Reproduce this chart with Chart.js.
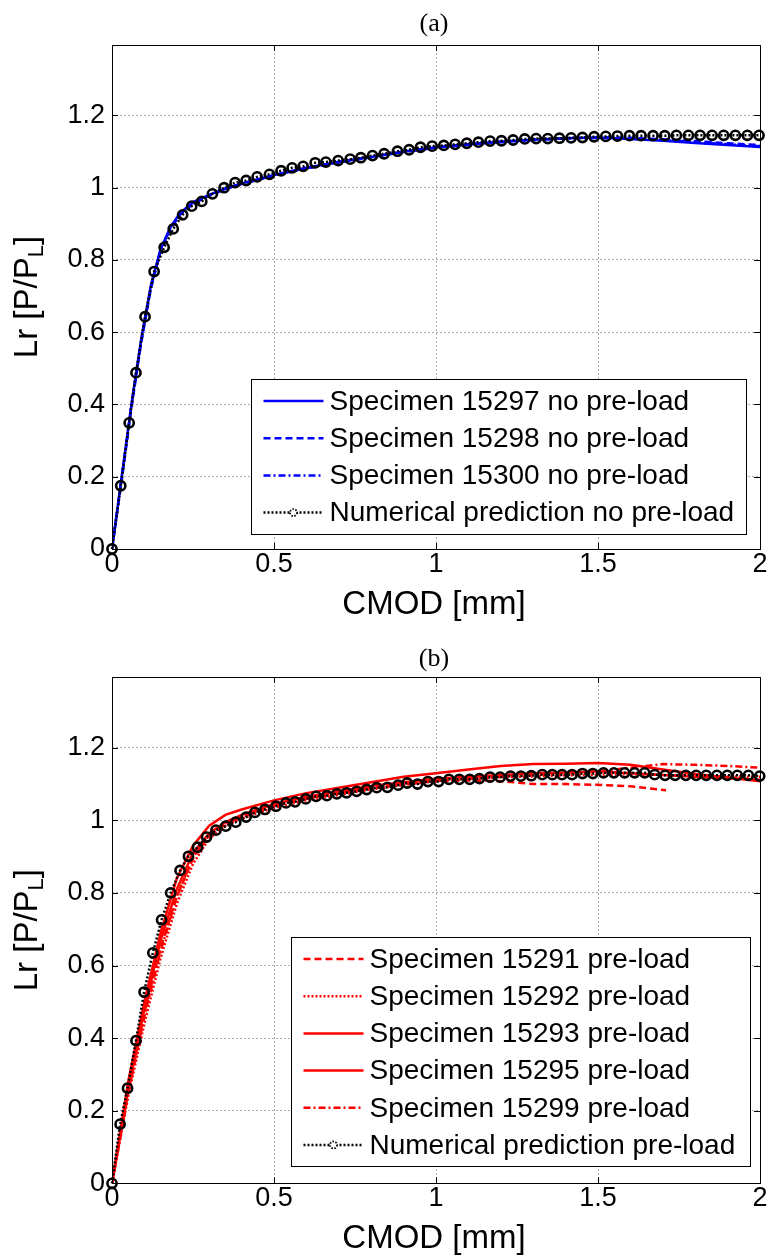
<!DOCTYPE html>
<html>
<head>
<meta charset="utf-8">
<script src="https://cdn.jsdelivr.net/npm/chart.js@4.4.1/dist/chart.umd.min.js"></script>
<style>
  html, body { margin: 0; padding: 0; background: #fff; }
  #wrap { position: relative; width: 768px; height: 1256px; }
  .panel { position: absolute; left: 0; width: 768px; height: 628px; }
</style>
</head>
<body>
<div id="wrap">
  <div class="panel" style="top:0"><canvas id="chartA" width="768" height="628"></canvas></div>
  <div class="panel" style="top:628px"><canvas id="chartB" width="768" height="628"></canvas></div>
</div>
<script>
// ---- axis ticks ----
const cmodTicks = [0, 0.5, 1, 1.5, 2];
const lrTicks = [0, 0.2, 0.4, 0.6, 0.8, 1, 1.2];

// ---- (a) specimens without pre-load ----
const expA_cmod = [0, 0.03, 0.06, 0.09, 0.12, 0.15, 0.18, 0.21, 0.25, 0.3, 0.35, 0.4, 0.5, 0.6, 0.7, 0.8, 0.9, 1.0, 1.1, 1.2, 1.3, 1.4, 1.5, 1.6, 1.7, 1.8, 1.9, 2.0];
const lr15297 = [0, 0.20, 0.40, 0.58, 0.73, 0.83, 0.89, 0.93, 0.96, 0.98, 0.998, 1.012, 1.035, 1.055, 1.072, 1.085, 1.100, 1.112, 1.120, 1.127, 1.133, 1.137, 1.139, 1.135, 1.130, 1.124, 1.118, 1.113];
const lr15298 = [0, 0.19, 0.39, 0.57, 0.72, 0.825, 0.885, 0.925, 0.955, 0.978, 0.996, 1.010, 1.033, 1.053, 1.070, 1.084, 1.099, 1.111, 1.119, 1.127, 1.133, 1.137, 1.140, 1.138, 1.134, 1.129, 1.123, 1.118];
const lr15300 = [0, 0.20, 0.40, 0.575, 0.725, 0.83, 0.888, 0.928, 0.958, 0.979, 0.997, 1.011, 1.034, 1.054, 1.071, 1.085, 1.099, 1.111, 1.120, 1.126, 1.132, 1.136, 1.138, 1.136, 1.132, 1.126, 1.120, 1.115];

// numerical prediction, no pre-load
const numA_cmod = [0, 0.027, 0.053, 0.074, 0.102, 0.130, 0.161, 0.189, 0.218, 0.246, 0.277, 0.310, 0.346,
  0.380, 0.414, 0.448, 0.486, 0.522, 0.556, 0.590, 0.627, 0.660, 0.698, 0.735, 0.768, 0.804, 0.840,
  0.881, 0.917, 0.952, 0.988, 1.024, 1.059, 1.095, 1.131, 1.167, 1.202, 1.238, 1.274, 1.309, 1.345, 1.381, 1.417, 1.452, 1.488,
  1.524, 1.560, 1.597, 1.633, 1.670, 1.706, 1.742, 1.779, 1.815, 1.852, 1.888, 1.924, 1.961, 1.997];
const numA_lr = [0, 0.175, 0.349, 0.488, 0.643, 0.768, 0.835, 0.886, 0.925, 0.949, 0.962, 0.983, 1.000,
  1.014, 1.020, 1.030, 1.037, 1.047, 1.055, 1.059, 1.069, 1.071, 1.075, 1.079, 1.083, 1.089, 1.094,
  1.101, 1.105, 1.112, 1.115, 1.117, 1.120, 1.123, 1.126, 1.129, 1.130, 1.132, 1.135, 1.136, 1.136, 1.137, 1.138, 1.139, 1.141,
  1.142, 1.143, 1.144, 1.144, 1.144, 1.144, 1.145, 1.145, 1.145, 1.145, 1.145, 1.145, 1.145, 1.145];

// ---- (b) specimens with pre-load ----
const expB_cmod = [0, 0.05, 0.1, 0.15, 0.2, 0.25, 0.3, 0.35, 0.4, 0.5, 0.6, 0.7, 0.8, 0.9, 1.0, 1.1, 1.2, 1.3, 1.4, 1.5, 1.6, 1.7, 1.8, 1.9, 2.0];
const lr15291_cmod = [0, 0.05, 0.1, 0.15, 0.2, 0.25, 0.3, 0.35, 0.4, 0.5, 0.6, 0.7, 0.8, 0.9, 1.0, 1.1, 1.2, 1.3, 1.4, 1.5, 1.6, 1.71];
const lr15291 = [0, 0.25, 0.47, 0.65, 0.79, 0.895, 0.958, 0.99, 1.01, 1.04, 1.06, 1.075, 1.09, 1.10, 1.108, 1.11, 1.108, 1.10, 1.10, 1.098, 1.094, 1.083];
const lr15292 = [0, 0.24, 0.44, 0.62, 0.77, 0.88, 0.95, 0.985, 1.005, 1.035, 1.055, 1.07, 1.085, 1.098, 1.108, 1.114, 1.119, 1.121, 1.124, 1.126, 1.127, 1.125, 1.123, 1.121, 1.12];
const lr15293 = [0, 0.28, 0.50, 0.69, 0.84, 0.93, 0.985, 1.015, 1.03, 1.055, 1.075, 1.09, 1.105, 1.12, 1.13, 1.14, 1.15, 1.155, 1.156, 1.158, 1.153, 1.14, 1.128, 1.118, 1.108];
const lr15295 = [0, 0.26, 0.48, 0.67, 0.81, 0.91, 0.965, 0.995, 1.015, 1.045, 1.065, 1.08, 1.095, 1.105, 1.115, 1.12, 1.125, 1.13, 1.132, 1.135, 1.13, 1.125, 1.12, 1.116, 1.112];
const lr15299 = [0, 0.25, 0.46, 0.64, 0.79, 0.9, 0.96, 0.99, 1.01, 1.04, 1.06, 1.075, 1.09, 1.1, 1.11, 1.115, 1.12, 1.125, 1.13, 1.135, 1.145, 1.155, 1.153, 1.15, 1.145];

// numerical prediction, pre-load
const numB_cmod = [0, 0.025, 0.048, 0.074, 0.099, 0.126, 0.153, 0.181, 0.210, 0.236, 0.264, 0.292, 0.321, 0.351, 0.382,
  0.414, 0.441, 0.472, 0.506, 0.537, 0.565, 0.598, 0.630, 0.663, 0.694, 0.724, 0.755, 0.786, 0.817, 0.850,
  0.883, 0.911, 0.943, 0.975, 1.008, 1.040, 1.072, 1.104, 1.134, 1.167, 1.198, 1.230, 1.262, 1.294, 1.328,
  1.359, 1.389, 1.420, 1.452, 1.484, 1.517, 1.549, 1.582, 1.613, 1.644, 1.675, 1.707, 1.738, 1.771, 1.803,
  1.834, 1.867, 1.899, 1.930, 1.964, 1.999];
const numB_lr = [0, 0.163, 0.262, 0.393, 0.527, 0.635, 0.726, 0.800, 0.862, 0.901, 0.926, 0.954, 0.973, 0.984, 0.995,
  1.009, 1.022, 1.030, 1.039, 1.048, 1.051, 1.059, 1.066, 1.068, 1.073, 1.076, 1.080, 1.085, 1.090, 1.091,
  1.097, 1.103, 1.100, 1.107, 1.107, 1.113, 1.113, 1.113, 1.115, 1.119, 1.119, 1.122, 1.122, 1.123, 1.126,
  1.126, 1.126, 1.126, 1.129, 1.129, 1.131, 1.131, 1.131, 1.131, 1.131, 1.126, 1.124, 1.124, 1.124, 1.124,
  1.124, 1.124, 1.124, 1.124, 1.124, 1.122];

// ---- styling ----
const BLUE = '#0000ff';
const RED = '#ff0000';
const DASH = [7, 4];
const DASHDOT = [7, 3, 2, 3];
const DOT = [2, 2];
const FONT = '"Liberation Sans", Arial, Helvetica, sans-serif';
const SERIF = '"Liberation Serif", "Times New Roman", serif';

Chart.defaults.font.family = FONT;
Chart.defaults.color = '#000';
Chart.defaults.animation = false;

function pts(xs, ys) { return xs.map((x, i) => ({ x: x, y: ys[i] })); }

function specimen(label, xs, ys, color, dash) {
  return {
    label: label, data: pts(xs, ys), showLine: true,
    borderColor: color, borderWidth: 2.5, borderDash: dash, pointRadius: 0,
    tension: 0, order: 1
  };
}
function prediction(label, xs, ys) {
  return {
    label: label, data: pts(xs, ys), showLine: true,
    borderColor: '#000', borderWidth: 2.5, borderDash: DOT,
    pointStyle: 'circle', pointRadius: 4.6, pointBorderWidth: 2.6,
    pointBorderColor: '#000', pointBackgroundColor: 'rgba(0,0,0,0)',
    tension: 0, order: 0, clip: false, isPrediction: true
  };
}

// MATLAB-like axes: box, inner ticks, panel title, axis labels, framed legend
const axesFrame = {
  id: 'axesFrame',
  beforeDraw(chart) {
    const c = chart.ctx;
    c.save(); c.fillStyle = '#fff'; c.fillRect(0, 0, chart.width, chart.height); c.restore();
  },
  afterDatasetsDraw(chart, args, o) {
    const c = chart.ctx, a = chart.chartArea;
    const xs = chart.scales.x, ys = chart.scales.y;
    c.save();
    c.setLineDash([]);
    c.strokeStyle = '#000'; c.lineWidth = 1;
    // inner tick marks on all four sides
    const tl = 6;
    c.beginPath();
    xs.ticks.forEach(t => {
      const px = Math.round(xs.getPixelForValue(t.value)) + 0.5;
      c.moveTo(px, a.bottom); c.lineTo(px, a.bottom - tl);
      c.moveTo(px, a.top); c.lineTo(px, a.top + tl);
    });
    ys.ticks.forEach(t => {
      const py = Math.round(ys.getPixelForValue(t.value)) + 0.5;
      c.moveTo(a.left, py); c.lineTo(a.left + tl, py);
      c.moveTo(a.right, py); c.lineTo(a.right - tl, py);
    });
    c.stroke();
    c.strokeRect(Math.round(a.left) + 0.5, Math.round(a.top) + 0.5, Math.round(a.right - a.left), Math.round(a.bottom - a.top));

    // legend
    const ds = chart.data.datasets;
    const lg = o.legend;
    const fs = 28;
    c.font = fs + 'px ' + FONT;
    let maxW = 0;
    ds.forEach(d => { maxW = Math.max(maxW, c.measureText(d.label).width); });
    const boxW = Math.round(lg.textOffset + maxW + lg.padRight);
    const boxH = Math.round(43 + (ds.length - 1) * lg.rowGap);
    const bx = Math.round(a.right - lg.insetRight - boxW) + 0.5;
    const by = Math.round(a.bottom - lg.insetBottom - boxH) + 0.5;
    c.fillStyle = '#fff';
    c.fillRect(bx, by, boxW, boxH);
    c.strokeStyle = '#000'; c.lineWidth = 1;
    c.strokeRect(bx, by, boxW, boxH);
    ds.forEach((d, i) => {
      const yy = by + 21.5 + i * lg.rowGap;
      const x0 = bx + 12, x1 = bx + 72;
      c.save();
      c.strokeStyle = d.borderColor; c.lineWidth = 2.5;
      c.setLineDash(d.borderDash || []);
      c.beginPath(); c.moveTo(x0, yy); c.lineTo(x1, yy); c.stroke();
      if (d.isPrediction) {
        c.setLineDash([]);
        c.fillStyle = '#fff';
        c.beginPath(); c.arc((x0 + x1) / 2, yy, 3.5, 0, Math.PI * 2); c.fill();
        c.setLineDash([1.5, 1.5]); c.lineWidth = 1.8; c.strokeStyle = '#000';
        c.beginPath(); c.arc((x0 + x1) / 2, yy, 3.5, 0, Math.PI * 2); c.stroke();
      }
      c.restore();
      c.fillStyle = '#000';
      c.textAlign = 'left'; c.textBaseline = 'middle';
      c.fillText(d.label, bx + lg.textOffset, yy + 1);
    });

    // panel title
    c.fillStyle = '#000';
    c.font = '26px ' + SERIF;
    c.textAlign = 'center'; c.textBaseline = 'middle';
    c.fillText(o.title, (a.left + a.right) / 2 - 2, a.top - o.titleGap);

    // x axis label
    c.font = '33px ' + FONT;
    c.textAlign = 'center'; c.textBaseline = 'middle';
    c.fillText(o.xLabel, (a.left + a.right) / 2 - 2, a.bottom + 56);

    // y axis label with subscript
    const main = o.yLabel[0], sub = o.yLabel[1], tail = o.yLabel[2];
    c.save();
    c.translate(28, (a.top + a.bottom) / 2);
    c.rotate(-Math.PI / 2);
    c.font = '33px ' + FONT;
    const w1 = c.measureText(main).width, w3 = c.measureText(tail).width;
    c.font = '22px ' + FONT;
    const w2 = c.measureText(sub).width;
    let x = -(w1 + w2 + w3) / 2;
    c.textAlign = 'left'; c.textBaseline = 'middle';
    c.font = '33px ' + FONT; c.fillText(main, x, 0); x += w1;
    c.font = '22px ' + FONT; c.fillText(sub, x, 9); x += w2;
    c.font = '33px ' + FONT; c.fillText(tail, x, 0);
    c.restore();

    c.restore();
  }
};

const plainLabel = v => String(Math.round(v * 10) / 10);

function makeOptions(cfg) {
  return {
    responsive: false,
    animation: false,
    layout: { padding: { top: cfg.top, right: 8, bottom: 0, left: 0 } },
    plugins: {
      legend: { display: false },
      tooltip: { enabled: false },
      axesFrame: cfg.frame
    },
    scales: {
      x: {
        type: 'linear', min: 0, max: 2,
        afterBuildTicks: s => { s.ticks = cmodTicks.map(v => ({ value: v })); },
        afterFit: s => { s.height = cfg.xHeight; },
        ticks: { font: { size: 27 }, color: '#000', padding: -1, maxRotation: 0, autoSkip: false, callback: plainLabel },
        grid: { color: 'rgba(0,0,0,0.32)', lineWidth: 1, drawTicks: false },
        border: { display: false, dash: [2, 2] }
      },
      y: {
        type: 'linear', min: 0, max: 1.395,
        afterBuildTicks: s => { s.ticks = lrTicks.map(v => ({ value: v })); },
        afterFit: s => { s.width = 112; },
        ticks: { font: { size: 27 }, color: '#000', padding: 7, autoSkip: false, callback: plainLabel },
        grid: { color: 'rgba(0,0,0,0.32)', lineWidth: 1, drawTicks: false },
        border: { display: false, dash: [2, 2] }
      }
    }
  };
}

new Chart(document.getElementById('chartA'), {
  type: 'scatter',
  data: {
    datasets: [
      specimen('Specimen 15297 no pre-load', expA_cmod, lr15297, BLUE, []),
      specimen('Specimen 15298 no pre-load', expA_cmod, lr15298, BLUE, DASH),
      specimen('Specimen 15300 no pre-load', expA_cmod, lr15300, BLUE, DASHDOT),
      prediction('Numerical prediction no pre-load', numA_cmod, numA_lr)
    ]
  },
  options: makeOptions({
    top: 45, xHeight: 79,
    frame: {
      title: '(a)', titleGap: 21, xLabel: 'CMOD [mm]', yLabel: ['Lr [P/P', 'L', ']'],
      legend: { insetRight: 14, insetBottom: 15, rowGap: 37.2, textOffset: 78, padRight: 12 }
    }
  }),
  plugins: [axesFrame]
});

new Chart(document.getElementById('chartB'), {
  type: 'scatter',
  data: {
    datasets: [
      specimen('Specimen 15291 pre-load', lr15291_cmod, lr15291, RED, DASH),
      specimen('Specimen 15292 pre-load', expB_cmod, lr15292, RED, DOT),
      specimen('Specimen 15293 pre-load', expB_cmod, lr15293, RED, []),
      specimen('Specimen 15295 pre-load', expB_cmod, lr15295, RED, []),
      specimen('Specimen 15299 pre-load', expB_cmod, lr15299, RED, DASHDOT),
      prediction('Numerical prediction pre-load', numB_cmod, numB_lr)
    ]
  },
  options: makeOptions({
    top: 49, xHeight: 72.7,
    frame: {
      title: '(b)', titleGap: 18, xLabel: 'CMOD [mm]', yLabel: ['Lr [P/P', 'L', ']'],
      legend: { insetRight: 10, insetBottom: 17, rowGap: 37.2, textOffset: 78, padRight: 15 }
    }
  }),
  plugins: [axesFrame]
});
</script>
</body>
</html>
